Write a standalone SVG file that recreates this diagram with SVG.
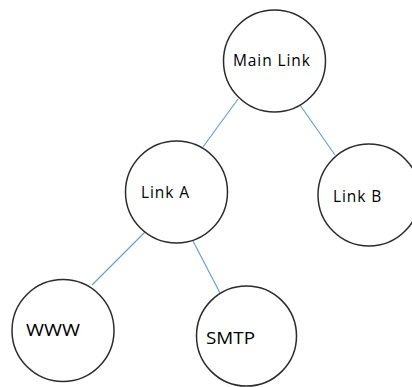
<svg xmlns="http://www.w3.org/2000/svg" width="412" height="387" viewBox="0 0 412 387">
  <style>
    .node circle { fill: #ffffff; stroke: #2b2b2b; stroke-width: 1.5; }
    .node text { font-family: "Open Sans", "Noto Sans", sans-serif; font-size: 15.5px; letter-spacing: 0.9px; fill: #000000; }
    .edges line { stroke: #6a9fd8; stroke-width: 1.2; }
  </style>
  <rect width="412" height="387" fill="#ffffff"/>
  <g id="connectors" class="edges">
    <line x1="238" y1="99" x2="203" y2="147"/>
    <line x1="300" y1="105" x2="335" y2="155"/>
    <line x1="145" y1="232" x2="92" y2="285"/>
    <line x1="193" y1="241" x2="220" y2="293"/>
  </g>
  <g id="main-link" class="node">
    <circle cx="274.5" cy="61" r="51"/>
    <text x="233" y="66">Main Link</text>
  </g>
  <g id="link-a" class="node">
    <circle cx="176.5" cy="192" r="51"/>
    <text x="141" y="198">Link A</text>
  </g>
  <g id="link-b" class="node">
    <circle cx="369" cy="195" r="51"/>
    <text x="333" y="202">Link B</text>
  </g>
  <g id="www" class="node">
    <circle cx="63" cy="330.5" r="51"/>
    <text x="26" y="336" textLength="54" lengthAdjust="spacingAndGlyphs" style="letter-spacing:0">WWW</text>
  </g>
  <g id="smtp" class="node">
    <circle cx="246.5" cy="336" r="50"/>
    <text x="206" y="344" textLength="49" lengthAdjust="spacingAndGlyphs" style="letter-spacing:0">SMTP</text>
  </g>
</svg>
